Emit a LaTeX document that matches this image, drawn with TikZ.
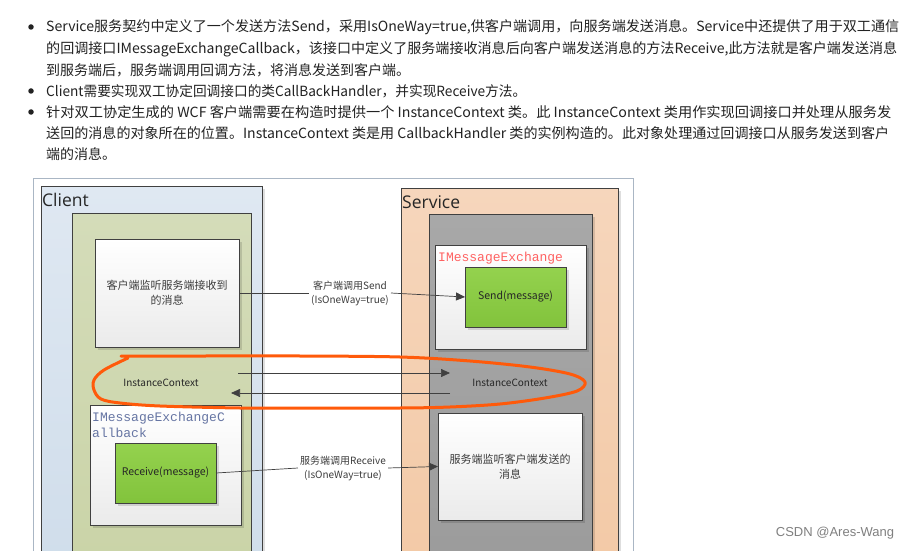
\documentclass[tikz,border=0pt]{standalone}
\usepackage{graphicx}
\usepackage{fontspec}
\setmainfont{Noto Sans CJK SC}
\newfontfamily\monofam{Liberation Mono}
\newfontfamily\titlefam{Open Sans}
\newfontfamily\wmfam{Liberation Sans}
\usetikzlibrary{arrows.meta,shadows}
\definecolor{linec}{HTML}{404040}
\definecolor{clientT}{HTML}{DFE8F2}
\definecolor{clientB}{HTML}{CEDCEA}
\definecolor{oliveT}{HTML}{D4DCB9}
\definecolor{oliveB}{HTML}{C8D2A4}
\definecolor{peachT}{HTML}{F6D6BC}
\definecolor{peachB}{HTML}{F2C8A4}
\definecolor{grayT}{HTML}{A8A8A8}
\definecolor{grayB}{HTML}{999999}
\definecolor{greenT}{HTML}{94D24E}
\definecolor{greenB}{HTML}{82C33C}
\definecolor{orangec}{HTML}{FF5A0A}
\definecolor{redmono}{HTML}{FF6262}
\definecolor{bluemono}{HTML}{6675A3}
\definecolor{frame}{HTML}{AAB6C4}
\definecolor{txt}{HTML}{222222}
\definecolor{lbl}{HTML}{3C3C3C}
\newcommand{\fitline}[2]{\resizebox{#1pt}{\height}{#2}}
\tikzset{
  panel/.style={draw=linec, line width=0.7pt, inner sep=0pt, outer sep=0pt, anchor=north west},
  shad/.style={drop shadow={shadow xshift=3pt, shadow yshift=-3pt, fill=black, opacity=0.13}},
  whitebox/.style={panel, shad, top color=white, bottom color=black!8},
  greenbox/.style={panel, shad, top color=greenT, bottom color=greenB, font=\fontsize{10.5}{13}\selectfont, text=black!85},
  para/.style={anchor=west, inner sep=0pt, text=txt, font=\fontsize{14}{16}\selectfont},
  bullet/.style={circle, fill=txt, inner sep=0pt, minimum size=5.5pt},
  lab/.style={inner sep=2pt, align=center, text=lbl, font=\fontsize{10}{14}\selectfont},
  boxtext/.style={align=center, text=lbl, font=\fontsize{11}{15}\selectfont},
  conn/.style={draw=linec, line width=0.7pt},
  arr/.style={conn, -{Triangle[length=9pt, width=8pt]}},
  title/.style={anchor=west, inner sep=0pt, font=\titlefam\fontsize{17.5}{20}\selectfont, text=black!85},
  ictext/.style={inner sep=0pt, font=\fontsize{10}{12}\selectfont, text=black!85},
  monot/.style={anchor=north west, inner sep=0pt, align=left, font=\monofam\fontsize{13}{16}\selectfont}
}
\begin{document}
\begin{tikzpicture}[x=1pt, y=-1pt]
\useasboundingbox (0,0) rectangle (911,551);
\fill[white] (0,0) rectangle (911,551);
% paragraph
\node[bullet] (b1) at (31,27) {};
\node[bullet] (b2) at (31,91) {};
\node[bullet] (b3) at (31,112) {};
\node[para] (p1) at (46,27) {\fitline{853}{Service服务契约中定义了一个发送方法Send，采用IsOneWay=true,供客户端调用，向服务端发送消息。Service中还提供了用于双工通信}};
\node[para] (p2) at (46,49) {\fitline{851}{的回调接口IMessageExchangeCallback，该接口中定义了服务端接收消息后向客户端发送消息的方法Receive,此方法就是客户端发送消息}};
\node[para] (p3) at (46,70) {到服务端后，服务端调用回调方法，将消息发送到客户端。};
\node[para] (p4) at (46,91) {\fitline{480}{Client需要实现双工协定回调接口的类CallBackHandler，并实现Receive方法。}};
\node[para] (p5) at (46,112) {\fitline{845}{针对双工协定生成的 WCF 客户端需要在构造时提供一个 InstanceContext 类。此 InstanceContext 类用作实现回调接口并处理从服务发}};
\node[para] (p6) at (46,133) {\fitline{843}{送回的消息的对象所在的位置。InstanceContext 类是用 CallbackHandler 类的实例构造的。此对象处理通过回调接口从服务发送到客户}};
\node[para] (p7) at (46,154) {端的消息。};
% diagram
\begin{scope}
\clip (0,170) rectangle (911,551);
\draw[frame, line width=0.9pt] (33,178) rectangle (633,620);
\node[panel, shad, top color=clientT, bottom color=clientB, minimum width=221pt, minimum height=420pt] (client) at (41,186) {};
\node[panel, top color=oliveT, bottom color=oliveB, minimum width=179pt, minimum height=420pt] (cinner) at (72,213) {};
\node[panel, shad, top color=peachT, bottom color=peachB, minimum width=217pt, minimum height=420pt] (service) at (401,188) {};
\node[panel, shad, top color=grayT, bottom color=grayB, minimum width=163pt, minimum height=420pt] (sinner) at (429,214) {};
\end{scope}
\node[title] (ctitle) at (42,200) {Client};
\node[title] (stitle) at (402,202) {Service};
% client listening box
\node[whitebox, minimum width=144pt, minimum height=108pt] (cw) at (95,239) {};
\node[boxtext] (cwt) at (cw.center) {客户端监听服务端接收到\\的消息};
% IMessageExchange
\node[whitebox, minimum width=151pt, minimum height=104pt] (ime) at (435,245) {};
\node[monot, text=redmono] (imet) at (438,252) {IMessageExchange};
\node[greenbox, minimum width=101pt, minimum height=60pt] (send) at (465,267) {};
\node[ictext, font=\fontsize{10.5}{13}\selectfont] (sendt) at (send.center) {Send(message)};
% InstanceContext
\node[ictext] (ic1) at (161,383) {InstanceContext};
\node[ictext] (ic2) at (510,383) {InstanceContext};
% callback box
\node[whitebox, minimum width=151pt, minimum height=120pt] (cb) at (90,405) {};
\node[monot, text=bluemono] (cbt) at (92,412) {IMessageExchangeC\\allback};
\node[greenbox, minimum width=101pt, minimum height=60pt] (recv) at (115,443) {};
\node[ictext, font=\fontsize{10.5}{13}\selectfont] (recvt) at (recv.center) {Receive(message)};
% service listening box
\node[whitebox, minimum width=144pt, minimum height=107pt] (sw) at (438,413) {};
\node[boxtext] (swt) at (sw.center) {服务端监听客户端发送的\\消息};
% labels
\node[lab] (l1) at (350,293) {客户端调用Send\\(IsOneWay=true)};
\node[lab] (l2) at (343,468) {服务端调用Receive\\(IsOneWay=true)};
% connectors
\draw[conn] (cw.east) -- (l1.west);
\draw[arr] (l1.east) -- (send.west);
\coordinate (a1s) at (238,373);
\coordinate (a1e) at (450,373);
\coordinate (a2s) at (450,393);
\coordinate (a2e) at (231,393);
\draw[arr] (a1s) -- (a1e);
\draw[arr] (a2s) -- (a2e);
\draw[conn] (recv.east) -- (l2.west);
\draw[arr] (l2.east) -- (sw.west);
% orange hand-drawn loop
\draw[orangec, line width=3pt, line cap=round, line join=round] plot[smooth, tension=0.55] coordinates {
(121,356) (200,356) (300,356) (400,357) (470,361) (530,367) (570,374) (585,382) (577,391) (545,398) (500,404) (450,407) (400,408) (300,408) (240,408) (160,406) (120,403) (101,399) (94,390) (94,380) (104,370) (128,358)};
% watermark
\node[inner sep=0pt, text=black!50, font=\wmfam\fontsize{13}{15}\selectfont] (wm) at (835,533) {CSDN @Ares-Wang};
\end{tikzpicture}
\end{document}
